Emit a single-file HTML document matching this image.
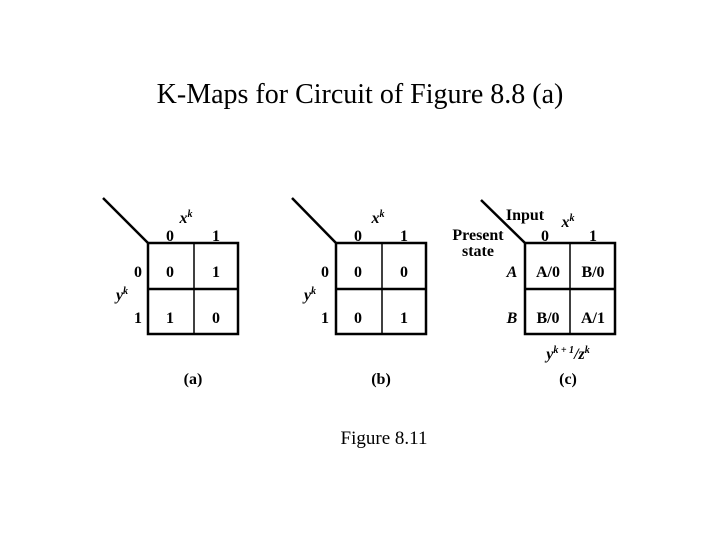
<!DOCTYPE html>
<html><head><style>
body{margin:0;background:#fff;}
svg{display:block;}
text{font-family:"Liberation Serif",serif;fill:#000;}
.b{font-weight:bold;font-size:16px;}
</style></head><body>
<svg width="720" height="540" xmlns="http://www.w3.org/2000/svg">
<text x="360" y="103" font-size="28" text-anchor="middle">K-Maps for Circuit of Figure 8.8 (a)</text>
<g stroke="#000" fill="none">
<line x1="103" y1="198" x2="148" y2="243" stroke-width="2.5"/>
<rect x="148" y="243" width="90" height="91" stroke-width="2.5"/>
<line x1="194" y1="243" x2="194" y2="334" stroke-width="1.5"/>
<line x1="148" y1="289" x2="238" y2="289" stroke-width="2.5"/>
<line x1="292" y1="198" x2="336" y2="243" stroke-width="2.5"/>
<rect x="336" y="243" width="90" height="91" stroke-width="2.5"/>
<line x1="382" y1="243" x2="382" y2="334" stroke-width="1.5"/>
<line x1="336" y1="289" x2="426" y2="289" stroke-width="2.5"/>
<line x1="481" y1="200" x2="525" y2="243" stroke-width="2.5"/>
<rect x="525" y="243" width="90" height="91" stroke-width="2.5"/>
<line x1="570" y1="243" x2="570" y2="334" stroke-width="1.5"/>
<line x1="525" y1="289" x2="615" y2="289" stroke-width="2.5"/>
</g>
<g text-anchor="middle">
<text class="b" x="186" y="223" font-style="italic">x<tspan font-size="10" dy="-6">k</tspan></text>
<text class="b" x="170" y="241">0</text><text class="b" x="216" y="241">1</text>
<text class="b" x="138" y="277">0</text><text class="b" x="138" y="323">1</text>
<text class="b" x="122" y="300" font-style="italic">y<tspan font-size="10" dy="-6">k</tspan></text>
<text class="b" x="170" y="277">0</text><text class="b" x="216" y="277">1</text>
<text class="b" x="170" y="323">1</text><text class="b" x="216" y="323">0</text>
<text class="b" x="193" y="384">(a)</text>
<text class="b" x="378" y="223" font-style="italic">x<tspan font-size="10" dy="-6">k</tspan></text>
<text class="b" x="358" y="241">0</text><text class="b" x="404" y="241">1</text>
<text class="b" x="325" y="277">0</text><text class="b" x="325" y="323">1</text>
<text class="b" x="310" y="300" font-style="italic">y<tspan font-size="10" dy="-6">k</tspan></text>
<text class="b" x="358" y="277">0</text><text class="b" x="404" y="277">0</text>
<text class="b" x="358" y="323">0</text><text class="b" x="404" y="323">1</text>
<text class="b" x="381" y="384">(b)</text>
<text class="b" x="525" y="220">Input</text>
<text class="b" x="568" y="227" font-style="italic">x<tspan font-size="10" dy="-6">k</tspan></text>
<text class="b" x="478" y="240">Present</text>
<text class="b" x="478" y="256">state</text>
<text class="b" x="545" y="241">0</text><text class="b" x="593" y="241">1</text>
<text class="b" x="512" y="277" font-style="italic">A</text><text class="b" x="512" y="323" font-style="italic">B</text>
<text class="b" x="548" y="277">A/0</text><text class="b" x="593" y="277">B/0</text>
<text class="b" x="548" y="323">B/0</text><text class="b" x="593" y="323">A/1</text>
<text class="b" x="568" y="359" font-style="italic">y<tspan font-size="10" dy="-6">k + 1</tspan><tspan dy="6">/z</tspan><tspan font-size="10" dy="-6">k</tspan></text>
<text class="b" x="568" y="384">(c)</text>
</g>
<text x="384" y="444" font-size="19" text-anchor="middle">Figure 8.11</text>
</svg>
</body></html>
